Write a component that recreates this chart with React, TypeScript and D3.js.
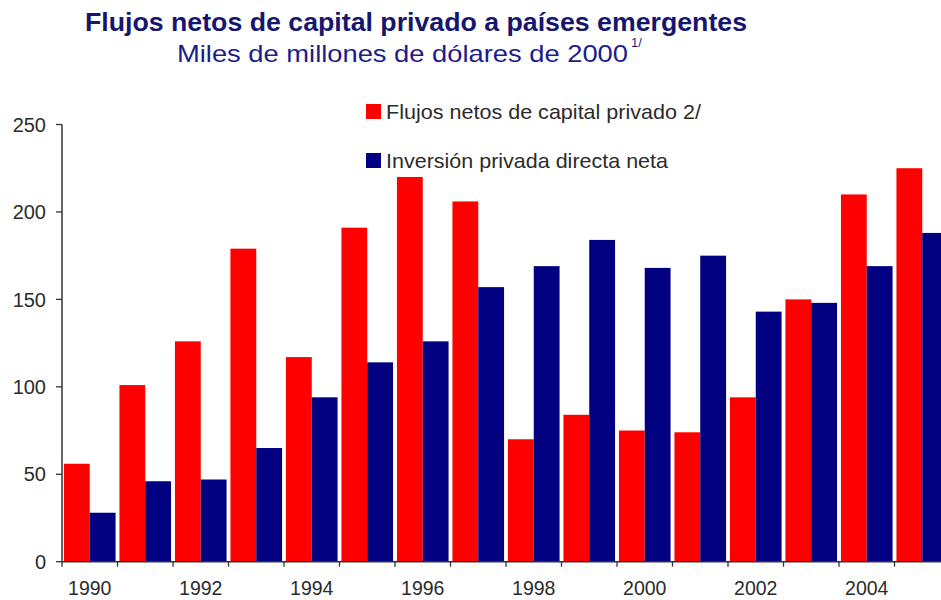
import React from "react";
import * as d3 from "d3";

const years = [1990, 1991, 1992, 1993, 1994, 1995, 1996, 1997, 1998, 1999, 2000, 2001, 2002, 2003, 2004, 2005];
const flujosNetos = [56, 101, 126, 179, 117, 191, 220, 206, 70, 84, 75, 74, 94, 150, 210, 225];
const inversionDirecta = [28, 46, 47, 65, 94, 114, 126, 157, 169, 184, 168, 175, 143, 148, 169, 188];
const yTicks = [0, 50, 100, 150, 200, 250];
const xLabelYears = [1990, 1992, 1994, 1996, 1998, 2000, 2002, 2004];
const seriesNames = ["Flujos netos de capital privado 2/", "Inversión privada directa neta"];
const seriesColors = ["#ff0000", "#000080"];

const W = 941;
const H = 600;
const FONT = "'Liberation Sans', Arial, sans-serif";

export default function App() {
  const x = d3
    .scaleBand<number>()
    .domain(years)
    .range([62, 950])
    .paddingInner(0.07)
    .paddingOuter(0.035);
  const xEdge = d3.scaleBand<number>().domain(years).range([62, 950]).padding(0);
  const x1 = d3.scaleBand<number>().domain([0, 1]).range([0, x.bandwidth()]).padding(0);
  const y = d3.scaleLinear().domain([0, 250]).range([561.7, 124.5]);

  const series = [flujosNetos, inversionDirecta];
  const axisColor = "#333";
  const textColor = "#2b2b2b";

  return (
    <svg
      width={W}
      height={H}
      style={{ position: "absolute", left: 0, top: 0, background: "#fff" }}
      fontFamily={FONT}
    >
      <rect x={0} y={0} width={W} height={H} fill="#fff" />
      {/* Title */}
      <text x={85} y={31} fontSize={25} fontWeight="bold" fill="#16166e" textLength={662} lengthAdjust="spacingAndGlyphs">
        Flujos netos de capital privado a países emergentes
      </text>
      <text x={177} y={62} fontSize={24} fill="#1c1c8c" textLength={451} lengthAdjust="spacingAndGlyphs">
        Miles de millones de dólares de 2000
      </text>
      <text x={631} y={47} fontSize={13} fill="#1c1c8c">
        1/
      </text>

      {/* Bars */}
      {years.map((yr, i) => (
        <g key={yr} transform={`translate(${x(yr)},0)`}>
          {series.map((s, k) => (
            <rect
              key={k}
              x={x1(k)}
              y={y(s[i])}
              width={x1.bandwidth()}
              height={y(0) - y(s[i])}
              fill={seriesColors[k]}
            />
          ))}
        </g>
      ))}

      {/* Y axis */}
      <line x1={62} x2={62} y1={y(250)} y2={y(0)} stroke={axisColor} strokeWidth={1.5} />
      {yTicks.map((t) => (
        <g key={t}>
          <line x1={56} x2={62} y1={y(t)} y2={y(t)} stroke={axisColor} strokeWidth={1.3} />
          <text x={46} y={y(t)} dy="0.36em" textAnchor="end" fontSize={20} fill={textColor}>
            {t}
          </text>
        </g>
      ))}

      {/* X axis */}
      <line x1={62} x2={950} y1={y(0)} y2={y(0)} stroke={axisColor} strokeWidth={1.5} />
      {years.map((yr) => (
        <line
          key={yr}
          x1={xEdge(yr)}
          x2={xEdge(yr)}
          y1={y(0)}
          y2={y(0) + 5}
          stroke={axisColor}
          strokeWidth={1.3}
        />
      ))}
      {xLabelYears.map((yr) => (
        <text
          key={yr}
          x={(xEdge(yr) as number) + xEdge.bandwidth() / 2}
          y={595}
          textAnchor="middle"
          fontSize={19.5}
          fill={textColor}
        >
          {yr}
        </text>
      ))}

      {/* Legend */}
      {seriesNames.map((name, k) => (
        <g key={name} transform={`translate(366,${104 + k * 49})`}>
          <rect x={0} y={0} width={15} height={15} fill={seriesColors[k]} />
          <text x={20} y={15} fontSize={21} fill={textColor} textLength={k === 0 ? 315 : 282} lengthAdjust="spacingAndGlyphs">
            {name}
          </text>
        </g>
      ))}
    </svg>
  );
}
